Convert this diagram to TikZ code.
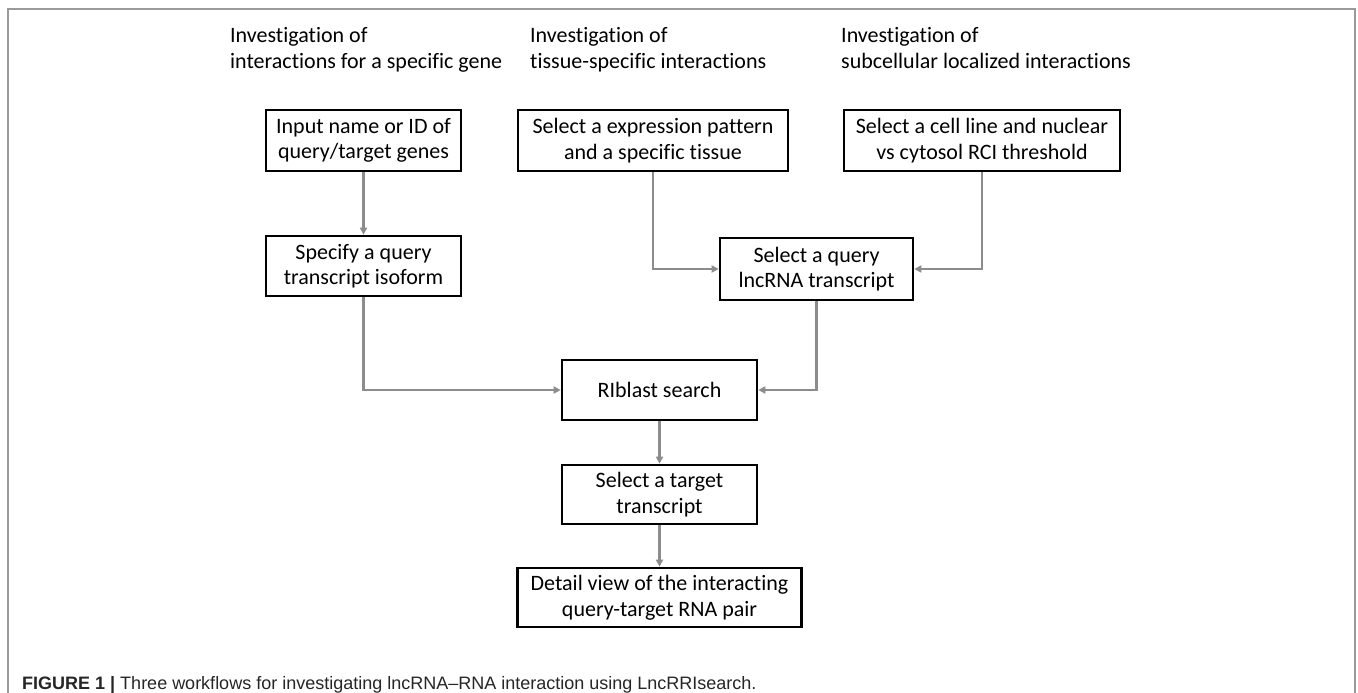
\documentclass[tikz,border=0pt]{standalone}
\usepackage{fontspec}
\setmainfont{Carlito}[Ligatures=NoCommon]
\newfontfamily\capfont{Liberation Sans}
\usetikzlibrary{arrows.meta}
\definecolor{conncol}{HTML}{8C8C8C}
\definecolor{framecol}{HTML}{9A9A9A}
\begin{document}
\begin{tikzpicture}[x=1pt,y=-1pt,
  box/.style={draw=black, line width=2.6pt, align=center, inner sep=0pt,
    font=\fontsize{22}{25.5}\selectfont},
  hdr/.style={align=left, inner sep=0pt, anchor=north west,
    font=\fontsize{22}{26}\selectfont},
  conn/.style={draw=conncol, line width=2.2pt,
    -{Triangle[length=7pt,width=7pt]}},
  frame/.style={draw=framecol, line width=1.5pt}]
\useasboundingbox (0,0) rectangle (1358,693);
% frame
\coordinate (fbl) at (8,693);
\coordinate (ftl) at (8,9);
\coordinate (ftr) at (1355,9);
\coordinate (fbr) at (1355,693);
\draw[frame] (fbl) -- (ftl) -- (ftr) -- (fbr);
% headers
\node[hdr] (h1) at (230,27) {Investigation of\\interactions for a specific gene};
\node[hdr] (h2) at (530,27) {Investigation of\\tissue-specific interactions};
\node[hdr] (h3) at (841,27) {Investigation of\\subcellular localized interactions};
% boxes
\node[box, minimum width=195pt, minimum height=61pt] (A) at (363.5,140.5) {Input name or ID of\\query/target genes};
\node[box, minimum width=270pt, minimum height=61pt] (B) at (653,140.5) {Select a expression pattern\\and a specific tissue};
\node[box, minimum width=276pt, minimum height=61pt] (C) at (982,140.5) {Select a cell line and nuclear\\vs cytosol RCI threshold};
\node[box, minimum width=195pt, minimum height=60pt] (D) at (363.5,266) {Specify a query\\transcript isoform};
\node[box, minimum width=193pt, minimum height=62pt] (E) at (816.5,269) {Select a query\\lncRNA transcript};
\node[box, minimum width=195pt, minimum height=60pt] (F) at (659.5,390) {RIblast search};
\node[box, minimum width=195pt, minimum height=59pt] (G) at (659.5,494.5) {Select a target\\transcript};
\node[box, minimum width=284pt, minimum height=59pt] (H) at (659.5,597.5) {Detail view of the interacting\\query-target RNA pair};
% connectors
\draw[conn] (A.south) -- (D.north);
\draw[conn] (B.south) |- (E.west);
\draw[conn] (C.south) |- (E.east);
\draw[conn] (D.south) |- (F.west);
\draw[conn] (E.south) |- (F.east);
\draw[conn] (F.south) -- (G.north);
\draw[conn] (G.south) -- (H.north);
% caption
\node[anchor=base west, inner sep=0pt, text=black!85] (cap) at (22,689)
  {\capfont\fontsize{18}{20}\selectfont\textbf{FIGURE 1 |} Three workflows for investigating lncRNA–RNA interaction using LncRRIsearch.};
\end{tikzpicture}
\end{document}
